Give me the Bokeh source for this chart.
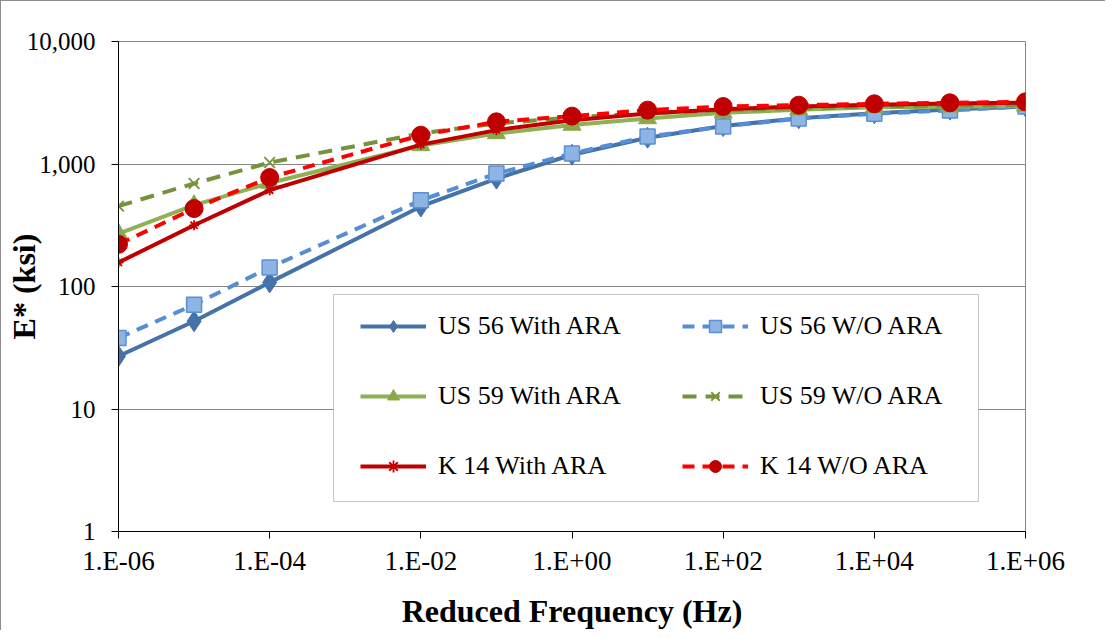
from bokeh.plotting import figure
from bokeh.models import (FixedTicker, NumeralTickFormatter, CustomJSTickFormatter,
                          Legend, BoxAnnotation)
from bokeh.embed import file_html
from bokeh.resources import INLINE

freq = [1e-6, 1e-5, 1e-4, 1e-2, 1e-1, 1e0, 1e1, 1e2, 1e3, 1e4, 1e5, 1e6]
us56_with = [27, 52, 108, 450, 760, 1190, 1640, 2040, 2360, 2600, 2780, 2950]
us56_wo = [38, 71, 143, 505, 835, 1218, 1676, 2024, 2350, 2570, 2735, 2950]
us59_with = [270, 461, 700, 1416, 1775, 2080, 2350, 2620, 2770, 2900, 2930, 2980]
us59_wo = [453, 693, 1028, 1775, 2140, 2400, 2600, 2750, 2850, 2950, 3000, 3030]
k14_with = [157, 316, 611, 1440, 1890, 2280, 2580, 2800, 2950, 3050, 3120, 3170]
k14_wo = [221, 433, 776, 1718, 2210, 2460, 2752, 2946, 3020, 3100, 3160, 3220]

x_ticks = [1e-6, 1e-4, 1e-2, 1e0, 1e2, 1e4, 1e6]
y_ticks = [1, 10, 100, 1000, 10000]

FONT = "'Liberation Serif', 'Times New Roman', Times, serif"

p = figure(width=1105, height=630, x_axis_type="log", y_axis_type="log",
           x_range=(1e-6, 1e6), y_range=(1, 10000),
           output_backend="svg", toolbar_location=None,
           min_border_left=117, min_border_right=81, min_border_top=40, min_border_bottom=100)
p.styles = {"border-left": "1.5px solid #8c8c8c", "border-top": "1.5px solid #8c8c8c"}

p.outline_line_color = "#868686"
p.xgrid.visible = False
p.ygrid.grid_line_color = "#868686"
p.ygrid.grid_line_width = 1

p.xaxis.ticker = FixedTicker(ticks=x_ticks, minor_ticks=[])
p.yaxis.ticker = FixedTicker(ticks=y_ticks, minor_ticks=[])
p.yaxis.formatter = NumeralTickFormatter(format="0,0")
p.xaxis.formatter = CustomJSTickFormatter(code="""
const e = Math.round(Math.log10(tick));
const a = Math.abs(e);
const s = a < 10 ? '0' + a : '' + a;
return '1.E' + (e < 0 ? '-' : '+') + s;
""")
for ax in (p.xaxis, p.yaxis):
    ax.axis_line_color = "#000000"
    ax.major_tick_line_color = "#000000"
    ax.major_tick_out = 7
    ax.major_tick_in = 0
    ax.minor_tick_line_color = None
    ax.major_label_text_font = FONT
    ax.major_label_text_color = "#000000"
    ax.axis_label_text_font = FONT
    ax.axis_label_text_font_style = "bold"
    ax.axis_label_text_font_size = "32px"
    ax.axis_label_text_color = "#000000"

p.xaxis.major_label_text_font_size = "27px"
p.yaxis.major_label_text_font_size = "25px"
p.xaxis.axis_label = "Reduced Frequency (Hz)"
p.yaxis.axis_label = "E* (ksi)"
p.xaxis.major_label_standoff = 7
p.xaxis.axis_label_standoff = 14
p.yaxis.major_label_standoff = 16
p.yaxis.axis_label_standoff = -18

LW = 4
# US 56 With ARA
r1 = p.line(freq, us56_with, line_color="#4672AA", line_width=LW)
m1 = p.scatter(freq, us56_with, marker="diamond", size=21, fill_color="#4672AA", line_color="#4672AA")
# US 56 W/O ARA
r2 = p.line(freq, us56_wo, line_color="#558ED5", line_width=LW, line_dash="12 8")
m2 = p.scatter(freq, us56_wo, marker="square", size=15, fill_color="#8EB4E3", line_color="#5B8FD6", line_width=1.5)
# US 59 With ARA
r3 = p.line(freq, us59_with, line_color="#8EB155", line_width=LW)
m3 = p.scatter(freq, us59_with, marker="triangle", size=18, fill_color="#8AA84B", line_color="#8AA84B")
# US 59 W/O ARA
r4 = p.line(freq, us59_wo, line_color="#76923C", line_width=LW, line_dash="14 9")
m4 = p.scatter(freq, us59_wo, marker="x", size=15, line_color="#77933C", line_width=1.8)
# K 14 With ARA
r5 = p.line(freq, k14_with, line_color="#C00000", line_width=LW)
m5 = p.scatter(freq, k14_with, marker="asterisk", size=10, line_color="#C00000", line_width=1.8)
# K 14 W/O ARA
r6 = p.line(freq, k14_wo, line_color="#FF0000", line_width=LW, line_dash="12 8")
m6 = p.scatter(freq, k14_wo, marker="circle", size=18, fill_color="#C00000", line_color="#C00000")

# legend frame (white box that hides the lines behind it)
p.add_layout(BoxAnnotation(left=331, right=976, top=292, bottom=499,
                           left_units="canvas", right_units="canvas",
                           top_units="canvas", bottom_units="canvas",
                           fill_color="white", fill_alpha=1,
                           line_color="#404040", line_width=1, level="annotation"))


def make_legend(items, x):
    lg = Legend(items=items, location=(x, 50))
    lg.label_text_font = FONT
    lg.label_text_font_size = "26px"
    lg.label_text_color = "#000000"
    lg.glyph_width = 66
    lg.glyph_height = 30
    lg.label_height = 30
    lg.label_standoff = 12
    lg.spacing = 40
    lg.padding = 0
    lg.margin = 0
    lg.border_line_color = None
    lg.background_fill_alpha = 0
    return lg


p.add_layout(make_legend([
    ("US 56 With ARA", [r1, m1]),
    ("US 59 With ARA", [r3, m3]),
    ("K 14 With ARA", [r5, m5]),
], 242), "center")
p.add_layout(make_legend([
    ("US 56 W/O ARA", [r2, m2]),
    ("US 59 W/O ARA", [r4, m4]),
    ("K 14 W/O ARA", [r6, m6]),
], 564), "center")

open("out.html", "w").write(file_html(p, INLINE))
